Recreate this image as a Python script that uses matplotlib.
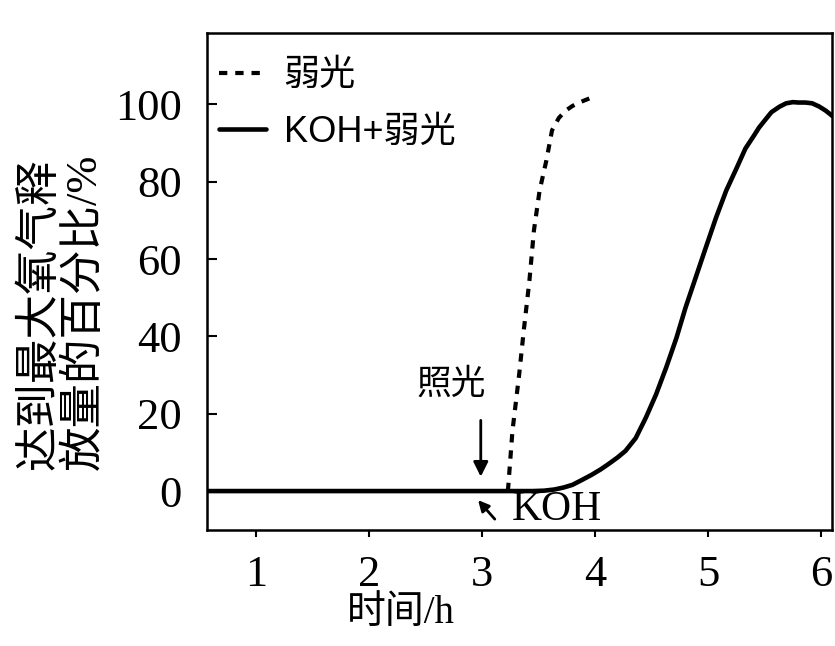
import matplotlib
matplotlib.use("Agg")
import matplotlib.pyplot as plt

plt.rcParams['font.family'] = ['Liberation Serif', 'Noto Sans CJK SC', 'DejaVu Sans']

# 弱光 (dotted)
weak_t = [3.23, 3.27, 3.33, 3.37, 3.42, 3.46, 3.51, 3.57, 3.62, 3.68, 3.74, 3.80, 3.86, 3.92, 3.97]
weak_y = [0, 15.5, 30.3, 41.5, 54.4, 67.4, 77.7, 85.5, 93.3, 96.5, 98.4, 99.6, 100.5, 101.2, 101.8]

# KOH+弱光 (solid)
koh_t = [0.57, 1.0, 2.0, 3.0, 3.45, 3.55, 3.64, 3.72, 3.80, 3.88, 3.97, 4.05, 4.12, 4.20, 4.27,
         4.36, 4.45, 4.54, 4.63, 4.72, 4.80, 4.89, 4.98, 5.07, 5.16, 5.25, 5.33,
         5.40, 5.45, 5.51, 5.56, 5.63, 5.69, 5.75, 5.80, 5.86, 5.92, 5.98, 6.04, 6.07, 6.1]
koh_y = [0, 0, 0, 0, 0, 0.1, 0.4, 0.9, 1.6, 2.8, 4.2, 5.6, 7.0, 8.7, 10.4,
         13.7, 19.0, 25.0, 32.0, 39.6, 47.4, 55.2, 63.0, 70.7, 77.7, 83.4, 88.6,
         91.7, 94.0, 96.2, 98.0, 99.4, 100.3, 100.6, 100.5, 100.5, 100.3, 99.5, 98.4, 97.7, 97.0]

x_ticks = [1, 2, 3, 4, 5, 6]
y_ticks = [0, 20, 40, 60, 80, 100]

fig = plt.figure(figsize=(8.35, 6.46), dpi=100)
ax = fig.add_axes([0.248, 0.180, 0.749, 0.769])

ax.plot(weak_t, weak_y, color='black', lw=3.0, linestyle=(0, (2.0, 1.9)), label='弱光')
ax.plot(koh_t, koh_y, color='black', lw=3.3, label='KOH+弱光',
        solid_joinstyle='round', solid_capstyle='round')

ax.set_xlim(0.57, 6.1)
ax.set_ylim(-10, 118.5)
ax.set_xticks(x_ticks)
ax.set_yticks(y_ticks)
ax.tick_params(axis='y', direction='in', length=7, width=1.5, labelsize=32, pad=18)
ax.tick_params(axis='x', direction='out', length=5, width=1.5, labelsize=32, pad=13)
for s in ax.spines.values():
    s.set_linewidth(1.8)

ax.set_xlabel('时间/h', fontsize=28)
ax.xaxis.set_label_coords(0.31, -0.168)
ax.xaxis.label.set_va('center')

fig.text(0.074, 0.272, '达到最大氧气释\n放量的百分比/%', fontsize=32, rotation=90,
         ha='center', va='bottom', multialignment='left', linespacing=1.1)

leg = ax.legend(loc='upper left', bbox_to_anchor=(-0.022, 1.0), frameon=False,
                handlelength=1.3, handletextpad=0.5, borderaxespad=0.3, labelspacing=0.6,
                prop={'family': ['Liberation Sans', 'Noto Sans CJK SC'], 'size': 26})

# 照光 arrow
ax.annotate('', xy=(2.99, 3.0), xytext=(2.99, 19.0),
            arrowprops=dict(arrowstyle='-|>', color='black', lw=2, mutation_scale=22))
ax.text(2.73, 27.5, '照光', fontsize=25, ha='center', va='center')

# KOH arrow
ax.annotate('', xy=(2.95, -1.8), xytext=(3.13, -7.8),
            arrowprops=dict(arrowstyle='-|>', color='black', lw=2, mutation_scale=16))
ax.text(3.26, -4.8, 'KOH', fontsize=30, ha='left', va='center')

fig.savefig('out.png', dpi=100, facecolor='white')
